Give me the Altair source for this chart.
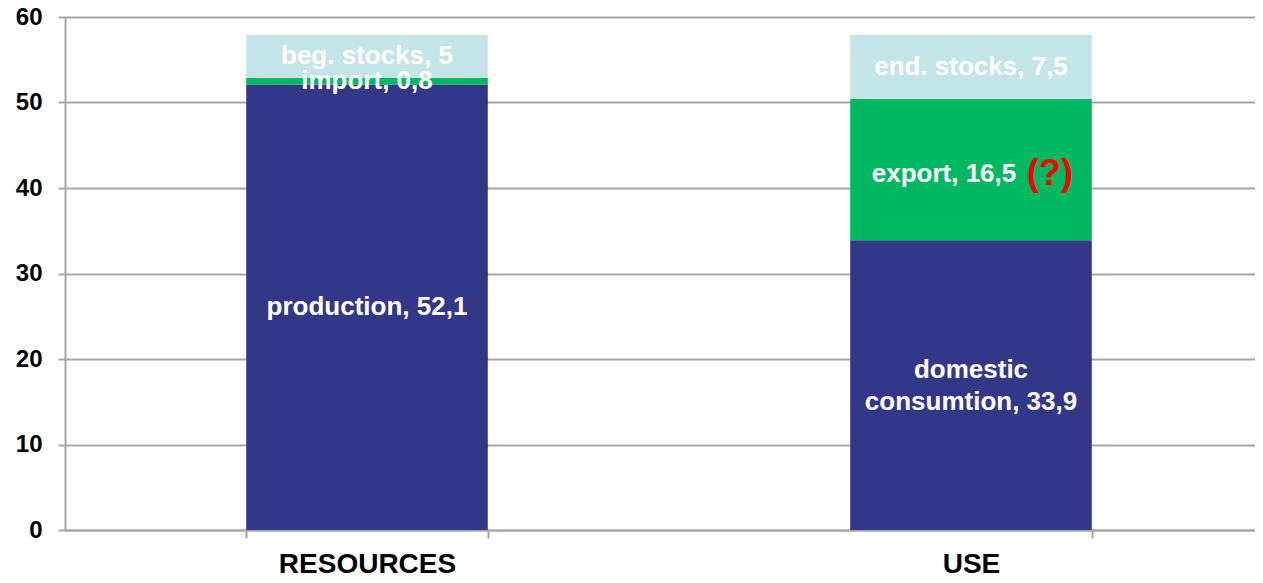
import altair as alt
import pandas as pd

categories = ["RESOURCES", "RESOURCES", "RESOURCES", "USE", "USE", "USE"]
components = ["production", "import", "beg. stocks", "domestic consumtion", "export", "end. stocks"]
roles = ["base", "trade", "stocks", "base", "trade", "stocks"]
values = [52.1, 0.8, 5.0, 33.9, 16.5, 7.5]
stack_order = [1, 2, 3, 1, 2, 3]
label_texts = ["production, 52,1", "import, 0,8", "beg. stocks, 5",
               "domestic\nconsumtion, 33,9", "export, 16,5", "end. stocks, 7,5"]
note_text = "(?)"
note_component = "export"

df = pd.DataFrame({
    "category": categories,
    "component": components,
    "role": roles,
    "value": values,
    "order": stack_order,
    "label": label_texts,
})
df = df.sort_values(["category", "order"]).reset_index(drop=True)
df["end"] = df.groupby("category")["value"].cumsum()
df["start"] = df["end"] - df["value"]
df["mid"] = (df["start"] + df["end"]) / 2

FONT = "Liberation Sans"
GRID = "#a6a6a6"
SORT = ["RESOURCES", "USE"]

x_enc = alt.X(
    "category:N",
    title=None,
    sort=SORT,
    scale=alt.Scale(range=[0, 1208], paddingInner=0.6, paddingOuter=0.3),
    axis=alt.Axis(
        labelAngle=0, labelFont=FONT, labelFontSize=28, labelFontWeight="bold",
        labelColor="black", labelPadding=12, labelLimit=0, tickBand="extent",
        tickSize=8, tickColor=GRID, tickWidth=2, domainColor=GRID,
        domainWidth=2, grid=False,
    ),
)
y_scale = alt.Scale(domain=[0, 60], nice=False)

bars = alt.Chart(df).mark_bar().encode(
    x=x_enc,
    y=alt.Y(
        "start:Q", title=None, scale=y_scale,
        axis=alt.Axis(
            values=[0, 10, 20, 30, 40, 50, 60], labelFont=FONT, labelFontSize=24,
            labelFontWeight="bold", labelColor="black", labelPadding=16,
            tickSize=7, tickColor=GRID, tickWidth=2, domainColor=GRID,
            domainWidth=2, grid=True, gridColor=GRID, gridWidth=2,
        ),
    ),
    y2="end:Q",
    color=alt.Color(
        "role:N", legend=None,
        scale=alt.Scale(domain=["base", "trade", "stocks"],
                        range=["#333787", "#00b862", "#c3e5e8"]),
    ),
)

is_multi = df["label"].str.contains("\n")
is_note = df["component"] == note_component

single_labels = alt.Chart(df[~is_multi & ~is_note]).mark_text(
    font=FONT, fontSize=26, fontWeight="bold", color="white", baseline="middle",
).encode(
    x=alt.X("category:N", sort=SORT),
    y=alt.Y("mid:Q", scale=y_scale),
    text="label:N",
)

multi_labels = alt.Chart(df[is_multi]).mark_text(
    font=FONT, fontSize=26, fontWeight="bold", color="white",
    lineBreak="\n", lineHeight=32, baseline="middle", dy=-15,
).encode(
    x=alt.X("category:N", sort=SORT),
    y=alt.Y("mid:Q", scale=y_scale),
    text="label:N",
)

export_label = alt.Chart(df[is_note]).mark_text(
    font=FONT, fontSize=26, fontWeight="bold", color="white",
    baseline="middle", dx=-27, dy=4,
).encode(
    x=alt.X("category:N", sort=SORT),
    y=alt.Y("mid:Q", scale=y_scale),
    text="label:N",
)

note_df = df[is_note].assign(note=note_text)
note = alt.Chart(note_df).mark_text(
    font=FONT, fontSize=36, fontWeight="bold", color="#ff0000",
    baseline="middle", dx=79, dy=4,
).encode(
    x=alt.X("category:N", sort=SORT),
    y=alt.Y("mid:Q", scale=y_scale),
    text="note:N",
)

chart = alt.layer(bars, single_labels, multi_labels, export_label, note).properties(
    width=1190,
    height=513,
    autosize=alt.AutoSizeParams(type="none"),
    padding={"left": 57, "top": 9, "right": 0, "bottom": 45},
).configure_view(stroke=None).configure(background="white")

chart.save("out.html", embed_options={"renderer": "svg", "actions": False})
